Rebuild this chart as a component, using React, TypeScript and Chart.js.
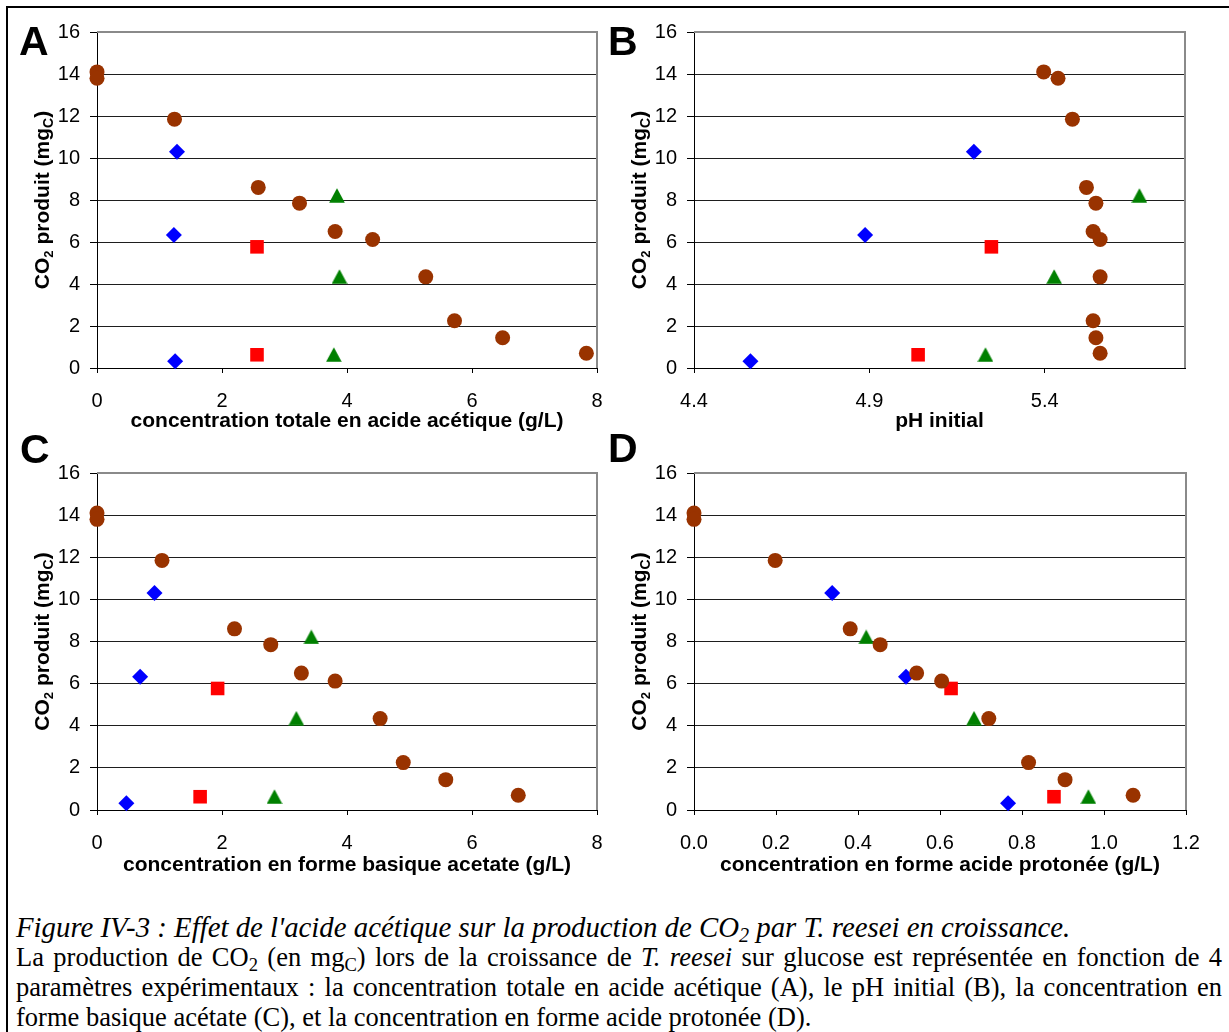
import React, { useEffect, useRef } from 'react';
import { Chart, registerables } from 'chart.js';

Chart.register(...registerables);

// ---- Data (CO2 produced, mgC) shared by every panel ----
const co2Circles = [14.1, 13.8, 11.85, 8.6, 7.85, 6.5, 6.12, 4.34, 2.25, 1.44, 0.7];
const co2Diamonds = [10.3, 6.33, 0.32];
const co2Squares = [5.77, 0.63];
const co2Triangles = [8.22, 4.36, 0.64];

// A: total acetic acid concentration (g/L)
const totalCircles = [0, 0, 1.24, 2.58, 3.24, 3.81, 4.41, 5.26, 5.72, 6.49, 7.83];
const totalDiamonds = [1.28, 1.23, 1.25];
const totalSquares = [2.56, 2.56];
const totalTriangles = [3.84, 3.88, 3.79];

// B: initial pH
const phCircles = [5.397, 5.438, 5.479, 5.519, 5.546, 5.538, 5.558, 5.558, 5.538, 5.546, 5.558];
const phDiamonds = [5.198, 4.888, 4.561];
const phSquares = [5.248, 5.039];
const phTriangles = [5.67, 5.427, 5.231];

// C: basic form (acetate) concentration (g/L)
const basicCircles = [0, 0, 1.04, 2.2, 2.78, 3.27, 3.81, 4.53, 4.9, 5.58, 6.74];
const basicDiamonds = [0.92, 0.69, 0.47];
const basicSquares = [1.93, 1.65];
const basicTriangles = [3.43, 3.19, 2.84];

// D: protonated acid concentration (g/L)
const acidCircles = [0, 0, 0.198, 0.381, 0.454, 0.543, 0.604, 0.719, 0.816, 0.905, 1.071];
const acidDiamonds = [0.337, 0.517, 0.766];
const acidSquares = [0.627, 0.878];
const acidTriangles = [0.42, 0.683, 0.962];

// ---- Tick labels ----
const yTicks = [0, 2, 4, 6, 8, 10, 12, 14, 16];
const xTicksA = [0, 2, 4, 6, 8];
const xTicksB = [4.4, 4.9, 5.4];
const xTicksC = [0, 2, 4, 6, 8];
const xTicksD = [0, 0.2, 0.4, 0.6, 0.8, 1.0, 1.2];

const SANS = '"Liberation Sans", Arial, sans-serif';
const BROWN = '#993300';
const BLUE = '#0000FF';
const RED = '#FF0000';
const GREEN = '#008000';

type Panel = {
  letter: string;
  xTitle: string;
  xMin: number;
  xMax: number;
  xTicks: number[];
  decimals: number;
  circles: number[];
  diamonds: number[];
  squares: number[];
  triangles: number[];
  left: number;
  top: number;
  width: number;
  height: number;
  area: { left: number; top: number; right: number; bottom: number };
  letterX: number;
  letterY: number;
  yTitleX: number;
  xTitleY: number;
};

const panels: Panel[] = [
  {
    letter: 'A', xTitle: 'concentration totale en acide acétique (g/L)',
    xMin: 0, xMax: 8, xTicks: xTicksA, decimals: 0,
    circles: totalCircles, diamonds: totalDiamonds, squares: totalSquares, triangles: totalTriangles,
    left: 0, top: 0, width: 640, height: 440,
    area: { left: 97, top: 32, right: 597, bottom: 368 },
    letterX: 19, letterY: 55, yTitleX: 49, xTitleY: 427,
  },
  {
    letter: 'B', xTitle: 'pH initial',
    xMin: 4.4, xMax: 5.8, xTicks: xTicksB, decimals: 1,
    circles: phCircles, diamonds: phDiamonds, squares: phSquares, triangles: phTriangles,
    left: 600, top: 0, width: 629, height: 440,
    area: { left: 94, top: 32, right: 585, bottom: 368 },
    letterX: 8, letterY: 55, yTitleX: 45.5, xTitleY: 427,
  },
  {
    letter: 'C', xTitle: 'concentration en forme basique acetate (g/L)',
    xMin: 0, xMax: 8, xTicks: xTicksC, decimals: 0,
    circles: basicCircles, diamonds: basicDiamonds, squares: basicSquares, triangles: basicTriangles,
    left: 0, top: 425, width: 640, height: 465,
    area: { left: 97, top: 48, right: 597, bottom: 385 },
    letterX: 20, letterY: 38, yTitleX: 49, xTitleY: 446,
  },
  {
    letter: 'D', xTitle: 'concentration en forme acide protonée (g/L)',
    xMin: 0, xMax: 1.2, xTicks: xTicksD, decimals: 1,
    circles: acidCircles, diamonds: acidDiamonds, squares: acidSquares, triangles: acidTriangles,
    left: 600, top: 425, width: 629, height: 465,
    area: { left: 94, top: 48, right: 586, bottom: 385 },
    letterX: 8, letterY: 37, yTitleX: 45.5, xTitleY: 446,
  },
];

function makeTriangle(): HTMLCanvasElement {
  const c = document.createElement('canvas');
  c.width = 16;
  c.height = 15;
  const g = c.getContext('2d')!;
  g.fillStyle = GREEN;
  g.beginPath();
  g.moveTo(8, 0.2);
  g.lineTo(15.8, 14.8);
  g.lineTo(0.2, 14.8);
  g.closePath();
  g.fill();
  return c;
}

const decorPlugin = {
  id: 'decor',
  beforeDatasetsDraw(chart: any) {
    const { ctx, chartArea } = chart;
    const { left, right, top, bottom } = chartArea;
    ctx.save();
    ctx.strokeStyle = '#8a8a8a';
    ctx.lineWidth = 2;
    ctx.beginPath();
    ctx.moveTo(left, top);
    ctx.lineTo(right, top);
    ctx.lineTo(right, bottom);
    ctx.stroke();
    ctx.restore();
  },
  afterDraw(chart: any) {
    const o = chart.options.plugins.decor;
    const { ctx, chartArea } = chart;
    ctx.save();
    ctx.fillStyle = '#000';
    // panel letter
    ctx.font = `bold 41px ${SANS}`;
    ctx.textAlign = 'left';
    ctx.textBaseline = 'alphabetic';
    ctx.fillText(o.letter, o.letterX, o.letterY);
    // x title
    ctx.font = `bold 21px ${SANS}`;
    ctx.textAlign = 'center';
    ctx.fillText(o.xTitle, (chartArea.left + chartArea.right) / 2, o.xTitleY);
    // y title with subscripts
    const parts = [
      { t: 'CO', s: 21, dy: 0 },
      { t: '2', s: 13, dy: 4 },
      { t: ' produit (mg', s: 21, dy: 0 },
      { t: 'C', s: 14, dy: 4 },
      { t: ')', s: 21, dy: 0 },
    ];
    let total = 0;
    const widths = parts.map((p) => {
      ctx.font = `bold ${p.s}px ${SANS}`;
      const w = ctx.measureText(p.t).width;
      total += w;
      return w;
    });
    const cy = (chartArea.top + chartArea.bottom) / 2;
    ctx.translate(o.yTitleX, cy);
    ctx.rotate(-Math.PI / 2);
    ctx.textAlign = 'left';
    let x = -total / 2;
    parts.forEach((p, i) => {
      ctx.font = `bold ${p.s}px ${SANS}`;
      ctx.fillText(p.t, x, p.dy);
      x += widths[i];
    });
    ctx.restore();
  },
};

function PanelChart({ p }: { p: Panel }) {
  const ref = useRef<HTMLCanvasElement | null>(null);
  useEffect(() => {
    const canvas = ref.current;
    if (!canvas) return;
    const tri = makeTriangle();
    const pts = (xs: number[], ys: number[]) => xs.map((x, i) => ({ x, y: ys[i] }));
    const chart = new Chart(canvas, {
      type: 'scatter',
      data: {
        datasets: [
          {
            data: pts(p.circles, co2Circles),
            pointStyle: 'circle',
            pointRadius: 7.5,
            backgroundColor: BROWN,
            borderColor: BROWN,
            borderWidth: 0,
            clip: false,
          } as any,
          {
            data: pts(p.diamonds, co2Diamonds),
            pointStyle: 'rectRot',
            pointRadius: 8,
            backgroundColor: BLUE,
            borderColor: BLUE,
            borderWidth: 0,
            clip: false,
          },
          {
            data: pts(p.squares, co2Squares),
            pointStyle: 'rect',
            pointRadius: 9.6,
            backgroundColor: RED,
            borderColor: RED,
            borderWidth: 0,
            clip: false,
          },
          {
            data: pts(p.triangles, co2Triangles),
            pointStyle: tri,
            pointRadius: 8,
            backgroundColor: GREEN,
            borderColor: GREEN,
            borderWidth: 0,
            clip: false,
          },
        ],
      },
      options: {
        responsive: false,
        animation: false,
        devicePixelRatio: 1,
        layout: {
          padding: {
            left: 0,
            top: p.area.top,
            right: p.width - p.area.right,
            bottom: 0,
          },
        },
        plugins: {
          legend: { display: false },
          tooltip: { enabled: false },
          decor: {
            letter: p.letter,
            letterX: p.letterX,
            letterY: p.letterY,
            xTitle: p.xTitle,
            xTitleY: p.xTitleY,
            yTitleX: p.yTitleX,
          },
        } as any,
        scales: {
          x: {
            type: 'linear',
            position: 'bottom',
            min: p.xMin,
            max: p.xMax,
            afterBuildTicks: (scale: any) => {
              scale.ticks = p.xTicks.map((v) => ({ value: v }));
            },
            afterFit: (scale: any) => {
              scale.height = p.height - p.area.bottom;
            },
            grid: {
              drawOnChartArea: false,
              drawTicks: true,
              tickLength: 5,
              color: '#000',
              tickColor: '#000',
            },
            border: { display: true, color: '#000', width: 1 },
            ticks: {
              autoSkip: false,
              maxRotation: 0,
              minRotation: 0,
              padding: 16,
              color: '#000',
              font: { family: SANS, size: 20 },
              callback: (v: any) => Number(v).toFixed(p.decimals),
            },
          },
          y: {
            type: 'linear',
            position: 'left',
            min: 0,
            max: 16,
            afterBuildTicks: (scale: any) => {
              scale.ticks = yTicks.map((v) => ({ value: v }));
            },
            afterFit: (scale: any) => {
              scale.width = p.area.left;
            },
            grid: {
              drawOnChartArea: true,
              drawTicks: true,
              tickLength: 7,
              color: (c: any) =>
                c.tick && (c.tick.value === 16 || c.tick.value === 0) ? 'rgba(0,0,0,0)' : '#1e1e1e',
              tickColor: '#000',
              lineWidth: 1,
            },
            border: { display: true, color: '#000', width: 1 },
            ticks: {
              padding: 10,
              color: '#000',
              font: { family: SANS, size: 20 },
              callback: (v: any) => String(v),
            },
          },
        },
      },
      plugins: [decorPlugin],
    } as any);
    return () => chart.destroy();
  }, [p]);
  return (
    <canvas
      ref={ref}
      width={p.width}
      height={p.height}
      style={{ position: 'absolute', left: p.left, top: p.top, width: p.width, height: p.height }}
    />
  );
}

const subStyle: React.CSSProperties = { fontSize: '0.7em', verticalAlign: '-0.25em', lineHeight: 0 };

export default function App() {
  const lineStyle: React.CSSProperties = {
    height: 30,
    lineHeight: '30px',
    textAlign: 'justify',
    textAlignLast: 'justify' as any,
  };
  return (
    <div
      style={{
        position: 'absolute',
        left: 0,
        top: 0,
        width: 1229,
        height: 1032,
        overflow: 'hidden',
        background: '#fff',
      }}
    >
      <div
        style={{
          position: 'absolute',
          left: 6,
          top: 6,
          width: 1300,
          height: 1100,
          borderTop: '2px solid #000',
          borderLeft: '2px solid #000',
        }}
      />
      {panels.map((p) => (
        <PanelChart key={p.letter} p={p} />
      ))}
      <div
        style={{
          position: 'absolute',
          left: 16,
          top: 912,
          width: 1206,
          fontFamily: '"Liberation Serif", "Times New Roman", serif',
          fontSize: 26.5,
          color: '#000',
        }}
      >
        <div style={{ height: 30, lineHeight: '30px', fontStyle: 'italic', whiteSpace: 'nowrap', fontSize: 28.8 }}>
          Figure IV-3 : Effet de l'acide acétique sur la production de CO<sub style={subStyle}>2</sub> par T. reesei en croissance.
        </div>
        <div style={lineStyle}>
          La production de CO<sub style={subStyle}>2</sub> (en mg<sub style={subStyle}>C</sub>) lors de la croissance de <i>T. reesei</i> sur glucose est représentée en fonction de 4
        </div>
        <div style={lineStyle}>
          paramètres expérimentaux : la concentration totale en acide acétique (A), le pH initial (B), la concentration en
        </div>
        <div style={{ height: 30, lineHeight: '30px', whiteSpace: 'nowrap' }}>
          forme basique acétate (C), et la concentration en forme acide protonée (D).
        </div>
      </div>
    </div>
  );
}
